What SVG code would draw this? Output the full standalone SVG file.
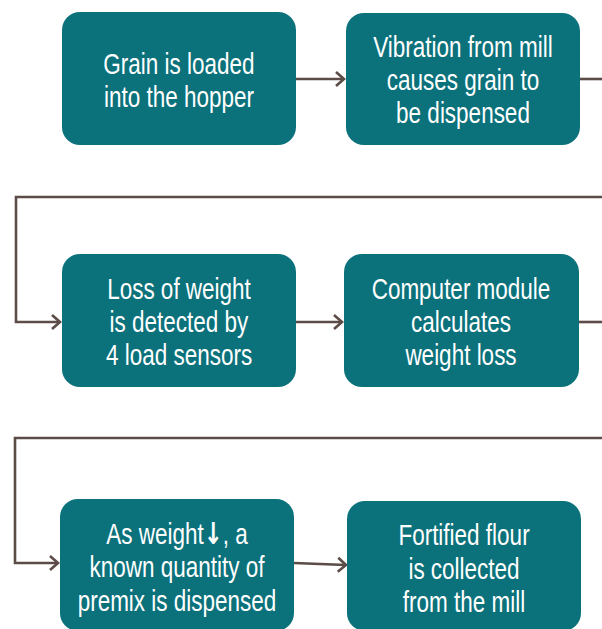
<svg xmlns="http://www.w3.org/2000/svg" width="602" height="629" viewBox="0 0 602 629">
<defs>
<style>
.box{fill:#0b717b;}
.t{font-family:"Liberation Sans",Arial,sans-serif;font-size:30px;fill:#ffffff;text-anchor:middle;}
.ar{font-family:"DejaVu Sans",sans-serif;font-weight:bold;}
.c{fill:none;stroke:#5b4c47;stroke-width:2.6;}
</style>
<marker id="ah" markerUnits="userSpaceOnUse" markerWidth="20" markerHeight="20" viewBox="-12 -10 14 20" refX="0" refY="0" orient="auto">
<path d="M-8,-7 L0,0 L-8,7" fill="none" stroke="#5b4c47" stroke-width="2.6"/>
</marker>
</defs>
<g id="connectors">
<path class="c" d="M296,79 H344" marker-end="url(#ah)"/>
<path class="c" d="M580,79 H602"/>
<path class="c" d="M602,197 H16 V322 H60" marker-end="url(#ah)"/>
<path class="c" d="M296,322 H342" marker-end="url(#ah)"/>
<path class="c" d="M579,322 H602"/>
<path class="c" d="M602,438 H15 V563 H58" marker-end="url(#ah)"/>
<path class="c" d="M294,563 L346,565" marker-end="url(#ah)"/>
</g>
<g id="n1">
<rect class="box" x="62" y="12" width="234" height="133" rx="18"/>
<g transform="matrix(0.75 0 0 1 179 0)"><text class="t" x="0" y="74">Grain is loaded</text><text class="t" x="0" y="107">into the hopper</text></g>
</g>
<g id="n2">
<rect class="box" x="346" y="13" width="234" height="132" rx="18"/>
<g transform="matrix(0.75 0 0 1 463 0)"><text class="t" x="0" y="57">Vibration from mill</text><text class="t" x="0" y="90">causes grain to</text><text class="t" x="0" y="123">be dispensed</text></g>
</g>
<g id="n3">
<rect class="box" x="62" y="254" width="234" height="133" rx="18"/>
<g transform="matrix(0.75 0 0 1 179 0)"><text class="t" x="0" y="299">Loss of weight</text><text class="t" x="0" y="332">is detected by</text><text class="t" x="0" y="365">4 load sensors</text></g>
</g>
<g id="n4">
<rect class="box" x="344" y="254" width="235" height="133" rx="18"/>
<g transform="matrix(0.75 0 0 1 461 0)"><text class="t" x="0" y="299">Computer module</text><text class="t" x="0" y="332">calculates</text><text class="t" x="0" y="365">weight loss</text></g>
</g>
<g id="n5">
<rect class="box" x="60" y="499" width="234" height="132" rx="18"/>
<g transform="matrix(0.75 0 0 1 177 0)"><text class="t" x="0" y="544">As weight<tspan class="ar">↓</tspan>, a</text><text class="t" x="0" y="577">known quantity of</text><text class="t" x="0" y="611">premix is dispensed</text></g>
</g>
<g id="n6">
<rect class="box" x="347" y="501" width="234" height="130" rx="18"/>
<g transform="matrix(0.75 0 0 1 464 0)"><text class="t" x="0" y="545">Fortified flour</text><text class="t" x="0" y="579">is collected</text><text class="t" x="0" y="612">from the mill</text></g>
</g>
</svg>
